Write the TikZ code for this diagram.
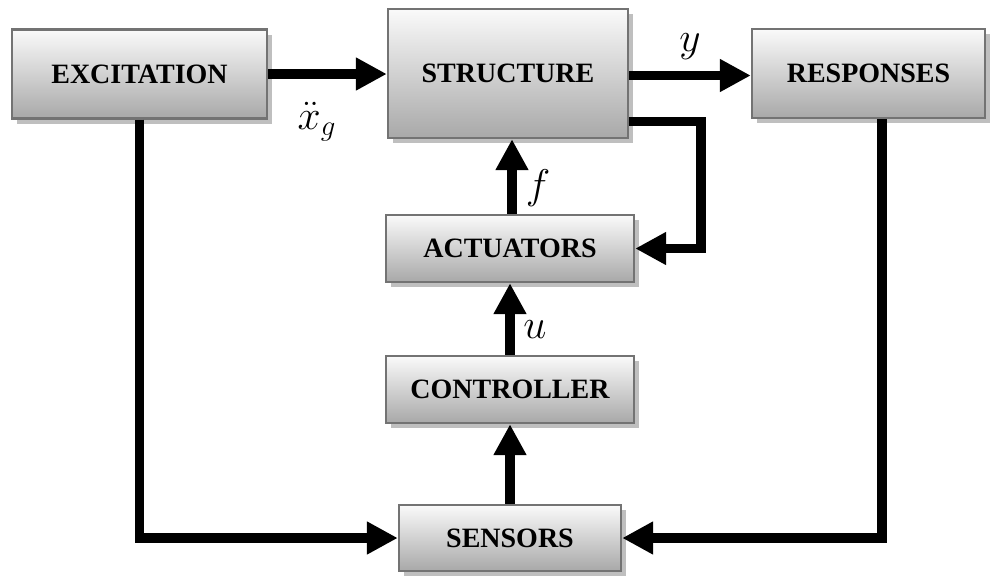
\documentclass[tikz,border=0pt]{standalone}
\usepackage{amsmath}
\usepackage{fontspec}
\setmainfont{Liberation Serif}
\usepackage{tikz}
\usetikzlibrary{arrows.meta,positioning,shadows,calc}

\begin{document}
\begin{tikzpicture}[
  x=0.5pt, y=-0.5pt,
  >={Triangle[length=15.5pt,width=15.5pt]},
  box/.style={draw=black!55, line width=1.2pt, inner sep=0pt,
    top color=gray!4, bottom color=gray!68,
    drop shadow={shadow xshift=2.5pt, shadow yshift=-2.5pt, fill=black!25, opacity=1},
    font=\fontsize{14}{16}\selectfont\bfseries},
  wide/.style={box, minimum width=124pt, minimum height=33.5pt},
  flow/.style={->, line width=4.8pt, line join=miter},
  lbl/.style={font=\fontsize{20}{24}\selectfont, inner sep=0pt},
]
\useasboundingbox (0,0) rectangle (998,575);

\node[box, minimum width=127.5pt, minimum height=44.5pt] (exc) at (139.5,74) {EXCITATION};
\node[box, minimum width=120pt, minimum height=64.5pt] (str) at (508,73.5) {STRUCTURE};
\node[box, minimum width=116.5pt, minimum height=44.5pt] (resp) at (868.5,73.5) {RESPONSES};
\node[wide] (act) at (510,248.5) {ACTUATORS};
\node[wide] (ctrl) at (510,389.5) {CONTROLLER};
\node[box, minimum width=111pt, minimum height=33pt] (sens) at (510,538) {SENSORS};

\coordinate (fbk) at (701,248.5);

\draw[flow] (exc.east) -- (exc.east -| str.west);
\draw[flow] ([yshift=-1pt]str.east) -- ([yshift=-1pt]resp.west);
\draw[flow] ([yshift=-24pt]str.east) -| (fbk) -- (act.east);
\draw[flow] ([xshift=1pt]act.north) -- ([xshift=1pt]act.north |- str.south);
\draw[flow] (ctrl) -- (act);
\draw[flow] (sens) -- (ctrl);
\draw[flow] (exc.south) |- (sens.west);
\draw[flow] ([xshift=6.75pt]resp.south) |- (sens.east);

\node[lbl] (xg) at (317,122) {$\ddot{x}_g$};
\node[lbl] (yout) at (690,47) {$y$};
\node[lbl] (fin) at (538,188) {$f$};
\node[lbl] (uin) at (535,330) {$u$};
\end{tikzpicture}
\end{document}
